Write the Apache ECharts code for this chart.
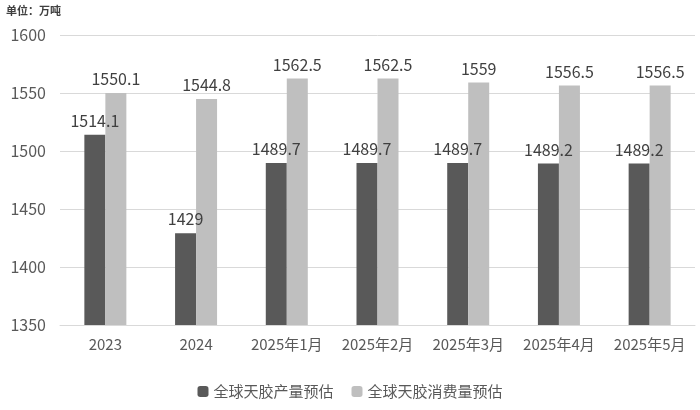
<!DOCTYPE html>
<html>
<head>
<meta charset="utf-8">
<script src="https://cdn.jsdelivr.net/npm/echarts@6/dist/echarts.min.js"></script>
<style>html,body{margin:0;padding:0;background:#fff}#main{width:700px;height:410px}</style>
</head>
<body>
<div id="main"></div>
<script>
var categories = ['2023', '2024', '2025年1月', '2025年2月', '2025年3月', '2025年4月', '2025年5月'];
var production = [1514.1, 1429, 1489.7, 1489.7, 1489.7, 1489.2, 1489.2];
var consumption = [1550.1, 1544.8, 1562.5, 1562.5, 1559, 1556.5, 1556.5];
var yTicks = [1350, 1400, 1450, 1500, 1550, 1600];

var font = '"Noto Sans CJK SC", sans-serif';
var myChart = echarts.init(document.getElementById('main'));
var option = {
    backgroundColor: '#fff',
    animation: false,
    textStyle: { fontFamily: font },
    graphic: [{
        type: 'text', left: 6, top: 5,
        style: { text: '单位：万吨', fontSize: 11, fontWeight: 'bold', fill: '#404040', fontFamily: font }
    }],
    grid: { left: 60, right: 5, top: 35, bottom: 85 },
    legend: {
        bottom: 6, itemWidth: 11, itemHeight: 11, itemGap: 18,
        textStyle: { color: '#595959', fontSize: 15, fontFamily: font },
        data: ['全球天胶产量预估', '全球天胶消费量预估']
    },
    xAxis: {
        type: 'category',
        data: categories,
        axisTick: { show: false },
        axisLine: { lineStyle: { color: '#d9d9d9' } },
        axisLabel: { color: '#595959', fontSize: 15, margin: 12, interval: 0 }
    },
    yAxis: {
        type: 'value',
        min: yTicks[0], max: yTicks[yTicks.length - 1], interval: 50,
        axisLabel: {
            color: '#595959', fontSize: 16, margin: 14,
            formatter: function (value) { return String(value); }
        },
        splitLine: { lineStyle: { color: '#d9d9d9' } }
    },
    series: [{
        name: '全球天胶产量预估',
        type: 'bar',
        barWidth: 21,
        barGap: '0%',
        itemStyle: { color: '#595959' },
        label: { show: true, position: 'top', color: '#404040', fontSize: 16, distance: 6 },
        data: production
    }, {
        name: '全球天胶消费量预估',
        type: 'bar',
        barWidth: 21,
        itemStyle: { color: '#bfbfbf' },
        label: { show: true, position: 'top', color: '#404040', fontSize: 16, distance: 6 },
        data: consumption
    }]
};
myChart.setOption(option);
</script>
</body>
</html>
